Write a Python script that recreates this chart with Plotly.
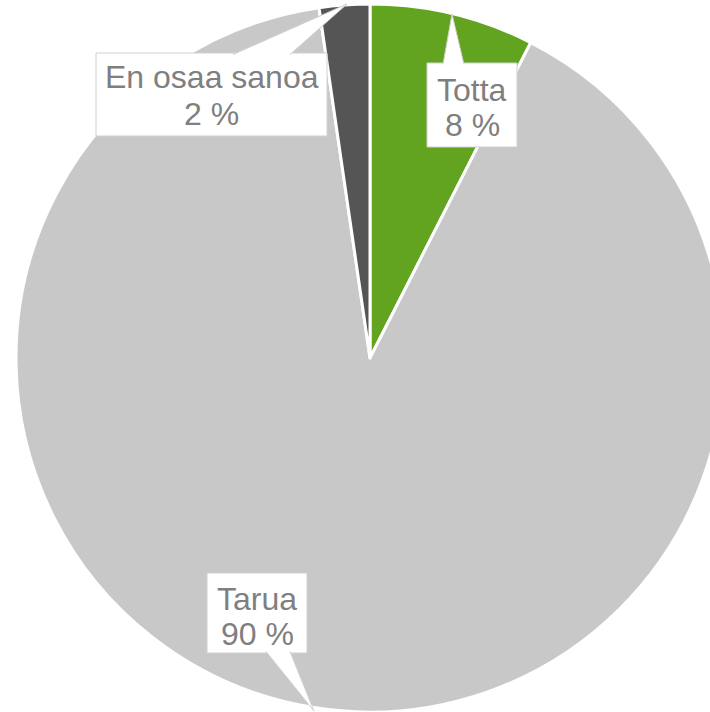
import plotly.graph_objects as go

# ---- data ----
categories = ["Totta", "Tarua", "En osaa sanoa"]
values = [7.5, 90.2, 2.3]
shown_pct = ["8 %", "90 %", "2 %"]
colors = ["#62a420", "#c8c8c8", "#555555"]

# ---- layout geometry (pixels) ----
W, H = 724, 712
def px(x):
    return x / W
def py(y):
    return 1 - y / H

fig = go.Figure()
fig.add_trace(go.Pie(
    labels=categories,
    values=values,
    sort=False,
    direction="clockwise",
    rotation=0,
    marker=dict(colors=colors, line=dict(color="white", width=3)),
    textinfo="none",
    hoverinfo="label+percent",
    showlegend=False,
    domain=dict(x=[16 / W, 1.0], y=[0.0, 708 / H]),
))

# callout boxes: (category index, box l, t, r, b, pointer base x1, x2, base y, tip x, tip y, line1 y, line2 y)
callouts = [
    (2, 96, 53, 327, 136, 233, 290, 53, 347, 4, 77, 114),
    (0, 427, 63, 517, 147, 443, 464, 63, 452, 14, 90, 125),
    (1, 207, 573, 307, 653, 266, 290, 653, 314, 711, 598.5, 633.5),
]
border = "#d0d0d0"
font = dict(family="Liberation Sans, Arial, sans-serif", size=32, color="#7f7f7f")
for idx, l, t, r, b, bx1, bx2, by, tx, ty, y1, y2 in callouts:
    fig.add_shape(type="rect", xref="paper", yref="paper",
                  x0=px(l), x1=px(r), y0=py(b), y1=py(t),
                  fillcolor="white", line=dict(color=border, width=1))
for idx, l, t, r, b, bx1, bx2, by, tx, ty, y1, y2 in callouts:
    inset = 1.5 if by == t else -1.5
    path = (f"M {px(bx1)} {py(by + inset)} L {px(tx)} {py(ty)} "
            f"L {px(bx2)} {py(by + inset)}")
    fig.add_shape(type="path", path=path, xref="paper", yref="paper",
                  fillcolor="white", line=dict(color=border, width=1))
    cx = px((l + r) / 2)
    for txt, yy in ((categories[idx], y1), (shown_pct[idx], y2)):
        fig.add_annotation(
            x=cx, y=py(yy), xref="paper", yref="paper",
            xanchor="center", yanchor="middle",
            text=txt, showarrow=False, font=font,
        )

fig.update_layout(
    width=W, height=H,
    margin=dict(l=0, r=0, t=0, b=0),
    paper_bgcolor="white",
    plot_bgcolor="white",
)

fig.write_html("out.html")
